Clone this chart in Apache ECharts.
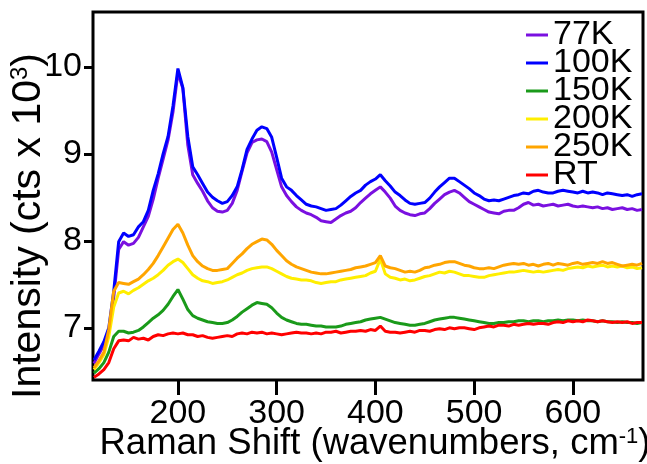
<!DOCTYPE html>
<html>
<head>
<meta charset="utf-8">
<script src="https://cdn.jsdelivr.net/npm/echarts@6/dist/echarts.min.js"></script>
<style>
  html, body { margin: 0; padding: 0; background: #fff; }
  #chart { width: 647px; height: 464px; }
</style>
</head>
<body>
<div id="chart"></div>
<script>
// Raman shift grid (cm^-1)
const wavenumber = [
  115,120,125,130,135,140,145,150,155,160,
  165,170,175,180,185,190,195,200,205,210,
  215,220,225,230,235,240,245,250,255,260,
  265,270,275,280,285,290,295,300,305,310,
  315,320,325,330,335,340,345,350,355,360,
  365,370,375,380,385,390,395,400,405,410,
  415,420,425,430,435,440,445,450,455,460,
  465,470,475,480,485,490,495,500,505,510,
  515,520,525,530,535,540,545,550,555,560,
  565,570,575,580,585,590,595,600,605,610,
  615,620,625,630,635,640,645,650,655,660,
  665,670
];

// Intensity (counts x 10^3) per temperature
const int77K = [
  6.59,6.70,6.80,6.95,7.35,7.90,7.99,7.95,7.97,8.04,
  8.16,8.28,8.48,8.72,8.94,9.16,9.48,9.93,9.75,9.10,
  8.76,8.66,8.57,8.46,8.38,8.34,8.33,8.35,8.43,8.58,
  8.80,9.01,9.13,9.16,9.17,9.14,9.02,8.82,8.62,8.52,
  8.45,8.39,8.35,8.32,8.30,8.27,8.23,8.22,8.21,8.25,
  8.29,8.32,8.34,8.38,8.44,8.49,8.54,8.58,8.62,8.56,
  8.49,8.40,8.35,8.32,8.30,8.29,8.31,8.32,8.37,8.43,
  8.48,8.53,8.56,8.58,8.55,8.50,8.45,8.42,8.39,8.36,
  8.33,8.32,8.31,8.34,8.35,8.35,8.38,8.42,8.44,8.41,
  8.42,8.40,8.41,8.42,8.40,8.41,8.42,8.40,8.39,8.40,
  8.39,8.38,8.39,8.37,8.38,8.36,8.37,8.38,8.36,8.37,
  8.35,8.36
];
const int100K = [
  6.63,6.73,6.84,7.00,7.42,7.99,8.09,8.05,8.07,8.16,
  8.22,8.35,8.58,8.77,9.00,9.20,9.55,9.98,9.76,9.20,
  8.85,8.76,8.66,8.56,8.50,8.46,8.43,8.45,8.52,8.62,
  8.82,9.05,9.17,9.27,9.31,9.29,9.19,8.96,8.72,8.62,
  8.58,8.52,8.47,8.42,8.40,8.39,8.37,8.35,8.36,8.37,
  8.41,8.46,8.51,8.55,8.58,8.64,8.68,8.71,8.76,8.69,
  8.63,8.56,8.52,8.47,8.43,8.42,8.43,8.44,8.49,8.56,
  8.62,8.67,8.72,8.72,8.68,8.64,8.60,8.55,8.52,8.48,
  8.46,8.47,8.46,8.48,8.50,8.52,8.53,8.55,8.54,8.57,
  8.58,8.56,8.55,8.55,8.57,8.58,8.57,8.56,8.55,8.57,
  8.55,8.56,8.55,8.53,8.55,8.54,8.53,8.52,8.53,8.51,
  8.53,8.54
];
const int150K = [
  6.48,6.53,6.60,6.72,6.90,6.96,6.96,6.94,6.95,6.97,
  7.01,7.06,7.11,7.15,7.20,7.27,7.36,7.44,7.33,7.21,
  7.14,7.11,7.09,7.07,7.06,7.05,7.05,7.06,7.09,7.13,
  7.18,7.22,7.26,7.29,7.28,7.27,7.23,7.17,7.12,7.09,
  7.07,7.05,7.04,7.04,7.03,7.02,7.02,7.01,7.01,7.01,
  7.02,7.04,7.05,7.06,7.07,7.09,7.10,7.11,7.12,7.10,
  7.08,7.06,7.05,7.04,7.03,7.03,7.04,7.05,7.07,7.09,
  7.10,7.11,7.12,7.12,7.11,7.10,7.09,7.08,7.07,7.06,
  7.05,7.05,7.06,7.06,7.07,7.07,7.08,7.08,7.07,7.08,
  7.08,7.07,7.08,7.08,7.09,7.08,7.09,7.09,7.08,7.09,
  7.08,7.08,7.07,7.08,7.07,7.07,7.06,7.07,7.06,7.06,
  7.05,7.06
];
const int200K = [
  6.52,6.60,6.69,6.90,7.24,7.40,7.42,7.39,7.43,7.46,
  7.50,7.54,7.57,7.61,7.66,7.72,7.76,7.79,7.75,7.68,
  7.61,7.57,7.54,7.53,7.51,7.52,7.53,7.55,7.58,7.61,
  7.63,7.66,7.68,7.69,7.70,7.70,7.68,7.65,7.62,7.59,
  7.57,7.56,7.55,7.55,7.54,7.52,7.51,7.52,7.53,7.53,
  7.55,7.56,7.57,7.58,7.59,7.60,7.63,7.65,7.79,7.62,
  7.58,7.57,7.55,7.56,7.54,7.55,7.57,7.59,7.60,7.62,
  7.64,7.63,7.65,7.64,7.62,7.60,7.60,7.59,7.58,7.58,
  7.60,7.61,7.62,7.63,7.64,7.64,7.65,7.66,7.65,7.64,
  7.65,7.64,7.65,7.66,7.67,7.66,7.68,7.69,7.70,7.69,
  7.71,7.70,7.71,7.72,7.70,7.71,7.70,7.71,7.69,7.70,
  7.68,7.69
];
const int250K = [
  6.54,6.62,6.72,6.98,7.42,7.52,7.51,7.50,7.53,7.56,
  7.61,7.67,7.74,7.83,7.93,8.03,8.13,8.19,8.09,7.95,
  7.83,7.76,7.71,7.68,7.66,7.66,7.67,7.68,7.74,7.80,
  7.85,7.91,7.96,7.99,8.02,8.01,7.96,7.89,7.83,7.77,
  7.73,7.70,7.68,7.66,7.64,7.63,7.62,7.62,7.63,7.64,
  7.65,7.66,7.67,7.69,7.70,7.71,7.73,7.75,7.83,7.71,
  7.69,7.68,7.66,7.64,7.65,7.64,7.66,7.69,7.70,7.72,
  7.73,7.75,7.76,7.76,7.74,7.72,7.71,7.69,7.68,7.68,
  7.69,7.68,7.70,7.72,7.73,7.74,7.73,7.74,7.72,7.73,
  7.71,7.73,7.74,7.72,7.74,7.73,7.72,7.74,7.75,7.73,
  7.74,7.75,7.74,7.76,7.74,7.75,7.73,7.71,7.72,7.73,
  7.72,7.74
];
const intRT = [
  6.43,6.47,6.52,6.60,6.76,6.85,6.86,6.85,6.89,6.87,
  6.88,6.86,6.90,6.92,6.91,6.93,6.94,6.93,6.94,6.92,
  6.92,6.90,6.91,6.89,6.88,6.89,6.90,6.91,6.90,6.93,
  6.94,6.93,6.95,6.94,6.95,6.93,6.94,6.93,6.92,6.93,
  6.94,6.95,6.94,6.94,6.93,6.94,6.93,6.95,6.95,6.96,
  6.94,6.95,6.96,6.96,6.97,6.96,6.98,6.97,7.02,6.96,
  6.95,6.95,6.94,6.95,6.96,6.95,6.97,6.97,6.96,6.98,
  6.99,6.98,7.00,6.99,7.00,7.00,6.99,6.98,7.00,7.01,
  7.02,7.01,7.03,7.03,7.02,7.04,7.03,7.04,7.05,7.04,
  7.05,7.05,7.04,7.06,7.07,7.06,7.08,7.07,7.08,7.07,
  7.09,7.08,7.07,7.08,7.07,7.06,7.07,7.06,7.07,7.05,
  7.06,7.06
];

const seriesNames = ['77K', '100K', '150K', '200K', '250K', 'RT'];
const seriesValues = [int77K, int100K, int150K, int200K, int250K, intRT];
const seriesColors = ['#7a10e0', '#0000ff', '#1a9a1a', '#ffee00', '#ffa500', '#ff0000'];

const xTicks = [200, 300, 400, 500, 600];
const yTicks = [7, 8, 9, 10];

const FONT = '"Liberation Sans", Arial, Helvetica, sans-serif';

const chart = echarts.init(document.getElementById('chart'), null, { renderer: 'canvas' });

const series = seriesNames.map((name, k) => ({
  name: name,
  type: 'line',
  data: wavenumber.map((x, i) => [x, seriesValues[k][i]]),
  showSymbol: false,
  symbol: 'none',
  lineStyle: { color: seriesColors[k], width: 3 },
  itemStyle: { color: seriesColors[k] },
  clip: true,
  z: 3
}));

chart.setOption({
  animation: false,
  backgroundColor: '#fff',
  grid: {
    left: 93, top: 12, right: 4, bottom: 84,
    show: true, borderColor: '#000', borderWidth: 3,
    backgroundColor: 'transparent'
  },
  xAxis: {
    type: 'value',
    min: 114, max: 671,
    axisLine: { show: false },
    splitLine: { show: false },
    axisTick: { show: true, customValues: xTicks, length: 15, lineStyle: { color: '#000', width: 3 } },
    axisLabel: { customValues: xTicks, margin: 17, fontSize: 34, color: '#000', fontFamily: FONT }
  },
  yAxis: {
    type: 'value',
    min: 6.4, max: 10.63,
    axisLine: { show: false },
    splitLine: { show: false },
    axisTick: { show: true, customValues: yTicks, length: 9, lineStyle: { color: '#000', width: 3 } },
    axisLabel: { customValues: yTicks, margin: 11, fontSize: 34, color: '#000', fontFamily: FONT }
  },
  legend: {
    orient: 'vertical',
    left: 526, top: 18,
    padding: 0,
    itemGap: -6,
    itemWidth: 22, itemHeight: 3,
    icon: 'rect',
    data: seriesNames,
    textStyle: { fontSize: 34, lineHeight: 28, color: '#000', fontFamily: FONT }
  },
  graphic: [
    {
      type: 'text',
      x: 375, y: 444,
      style: {
        text: 'Raman Shift (wavenumbers, cm{sup|-1})',
        font: '36.5px ' + FONT,
        fontSize: 36.5, fontFamily: FONT,
        fill: '#000',
        align: 'center', verticalAlign: 'middle',
        textAlign: 'center', textVerticalAlign: 'middle',
        rich: { sup: { fontSize: 22, fontFamily: FONT, verticalAlign: 'top', fill: '#000' } }
      }
    },
    {
      type: 'text',
      x: 29, y: 226,
      rotation: Math.PI / 2,
      style: {
        text: 'Intensity (cts x 10{sup|3})',
        font: '41px ' + FONT,
        fontSize: 41, fontFamily: FONT,
        fill: '#000',
        align: 'center', verticalAlign: 'middle',
        textAlign: 'center', textVerticalAlign: 'middle',
        rich: { sup: { fontSize: 24, fontFamily: FONT, verticalAlign: 'top', fill: '#000' } }
      }
    }
  ],
  series: series
});
</script>
</body>
</html>
